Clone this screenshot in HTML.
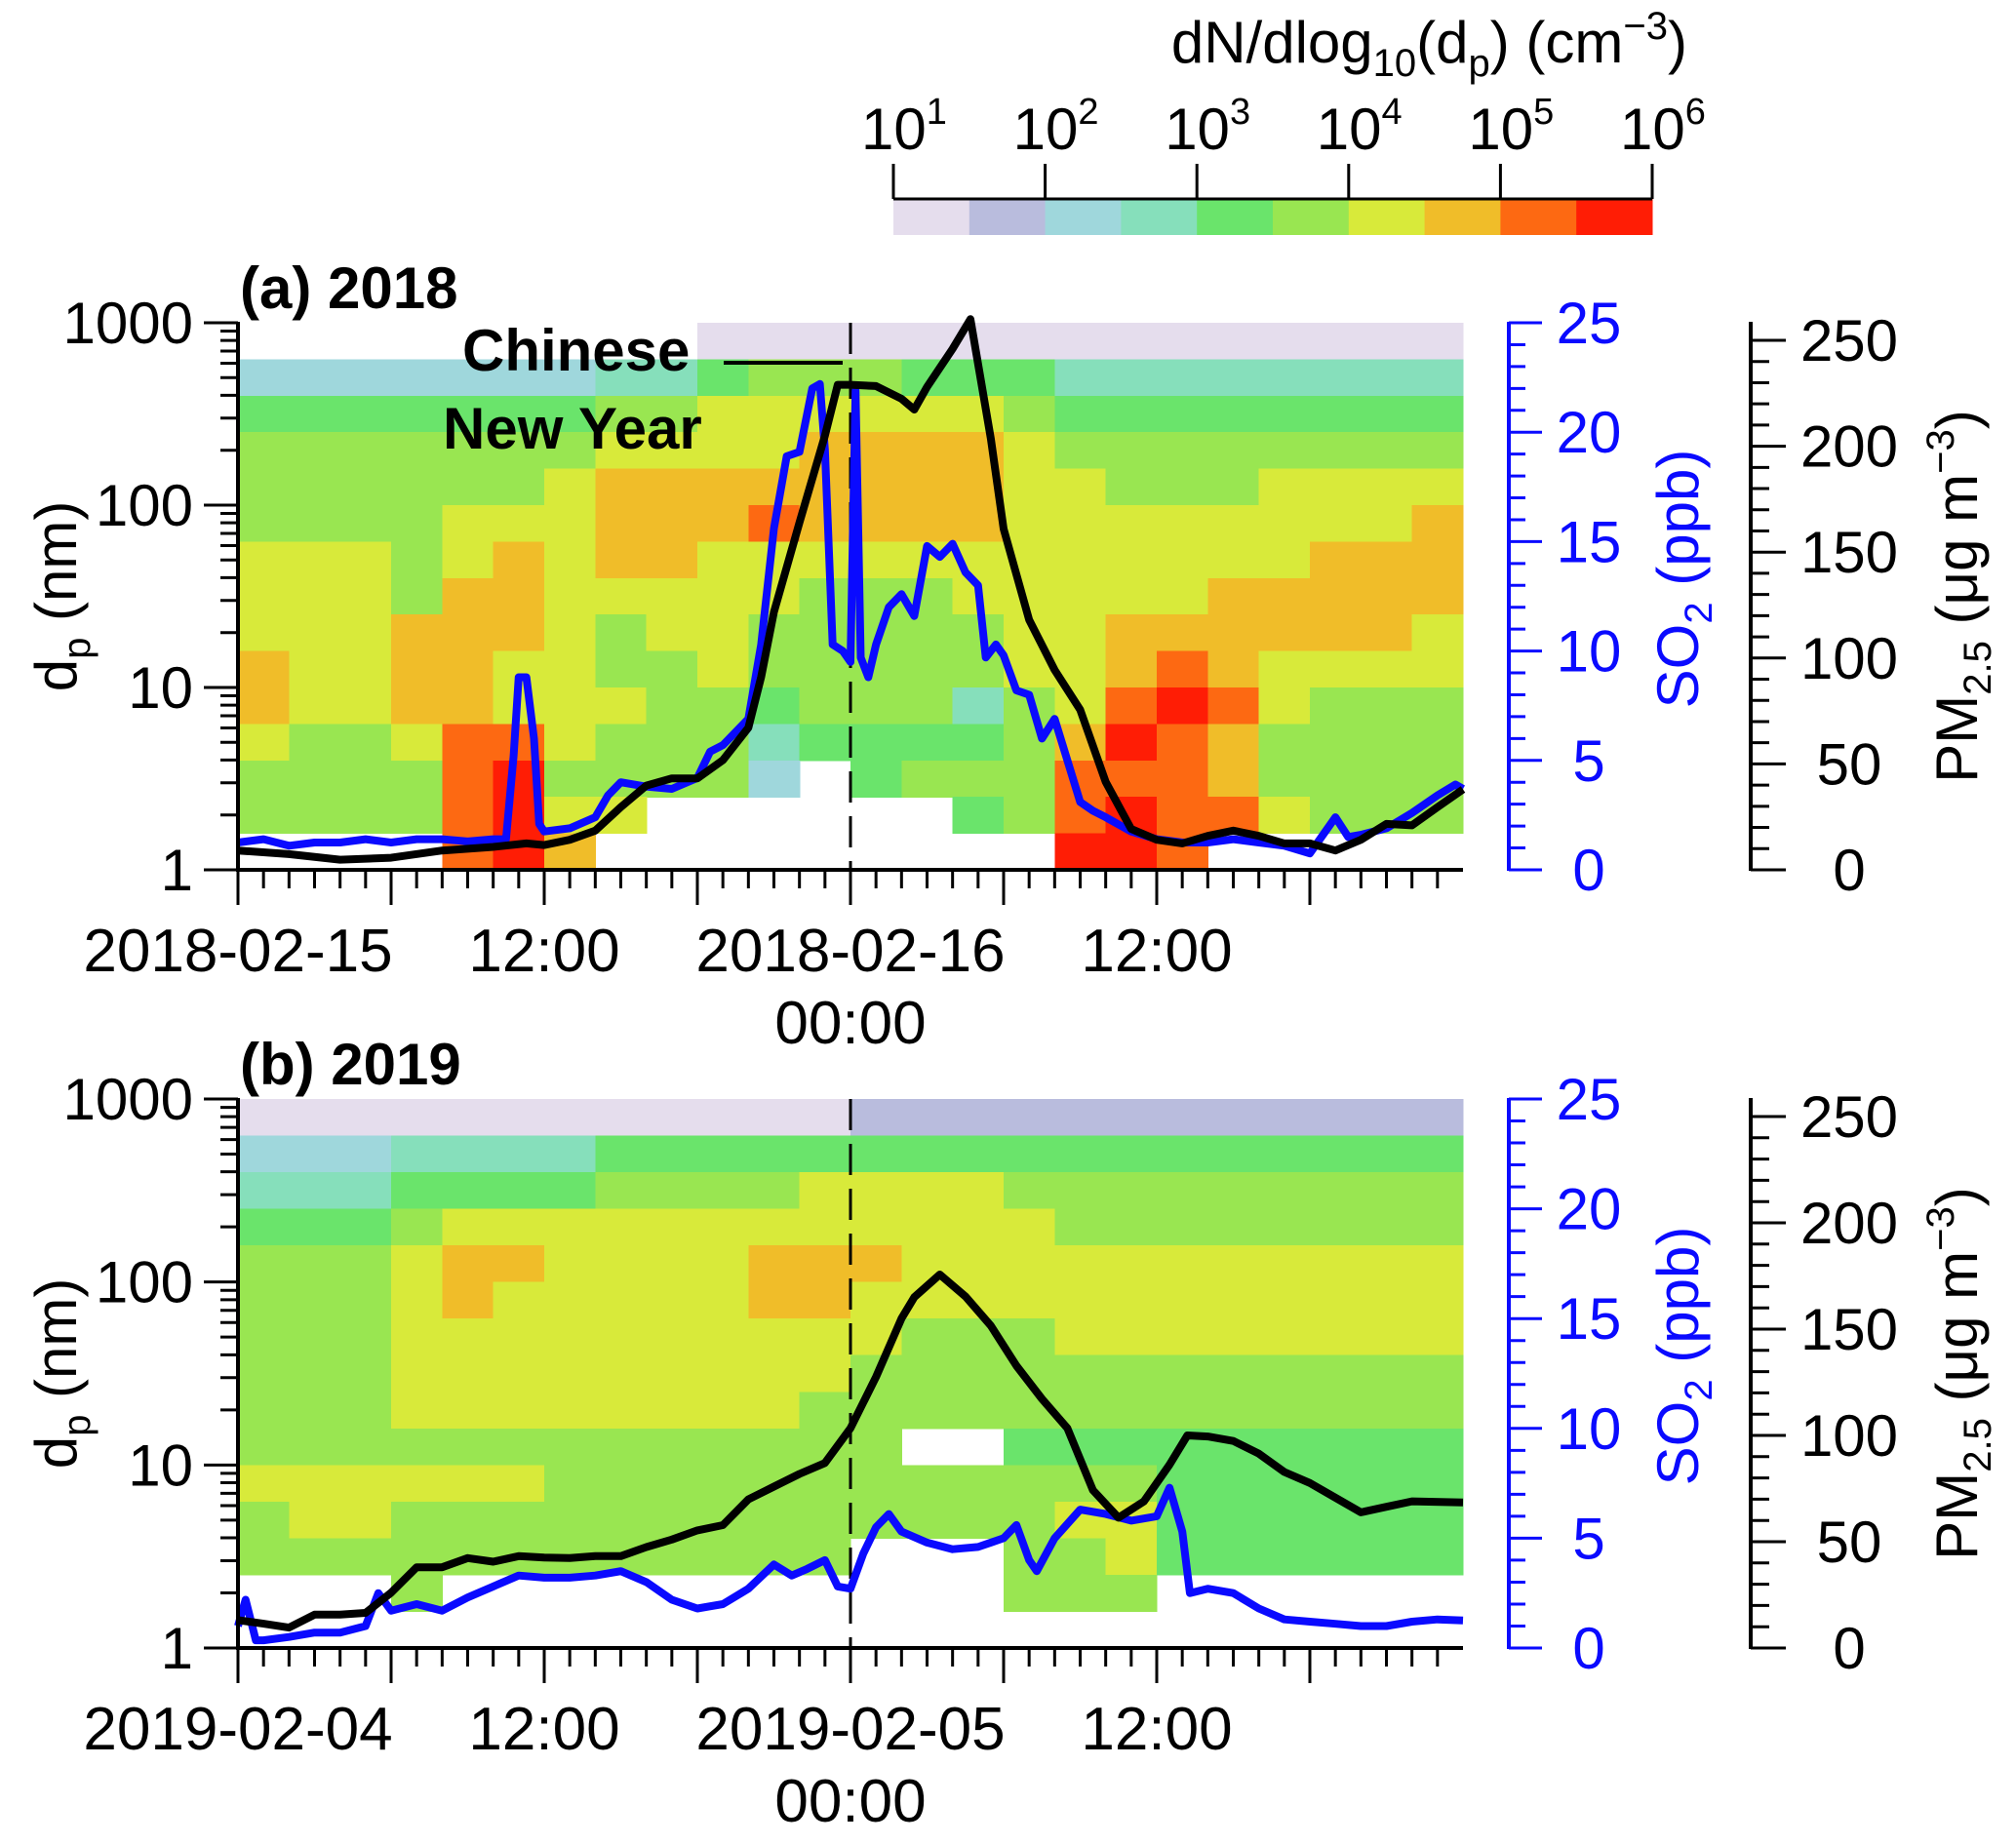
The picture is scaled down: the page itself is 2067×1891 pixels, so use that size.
<!DOCTYPE html>
<html><head><meta charset="utf-8"><title>Particle size distribution, SO2 and PM2.5 around Chinese New Year</title>
<style>
html,body{margin:0;padding:0;background:#fff;}
svg{display:block;font-family:"Liberation Sans",Arial,sans-serif;}
</style></head>
<body>
<svg id="chart" width="2067" height="1891" viewBox="0 0 2067 1891" xmlns="http://www.w3.org/2000/svg">
<rect x="0" y="0" width="2067" height="1891" fill="#fff"/>
<g id="colorbar"></g>
<g id="panelA"></g>
<g id="panelB"></g>
</svg>
<script>
// ---------- DATA ----------
const gridA = [
".........000000000000000",
"222222233455544433333333",
"444444455666666544444444",
"555555566667777655555555",
"555555677777777665556666",
"555566677787777666666667",
"666567677666666666666777",
"666577666665556666677777",
"666777656655555667777776",
"766776655655555667876666",
"766776665545553568986555",
"655688655534444579875555",
"55558955552.455588875555",
"55558966......4589886555",
"....897.........998....."
];
const gridB = [
"000000000000111111111111",
"222333344444444444444444",
"333444455556666555555555",
"444566666666666655555555",
"555677666677766666666666",
"555676666677666666666666",
"555666666666655566666666",
"555666666666555555555555",
"555666666665555555555555",
"5555555555555..444444444",
"666666555555555555444444",
"566555555555555566444444",
"555555555555...556444444",
"...5...........555......",
"........................"
];
const so2A_t = [0,1,2,3,4,5,6,7,8,9,10,10.5,10.8,11,11.3,11.6,11.8,12,13,14,14.5,15,16,17,18,18.5,19,20,20.5,21,21.5,22,22.5,22.8,23,23.3,23.7,24,24.2,24.4,24.7,25,25.5,26,26.5,27,27.5,28,28.5,29,29.3,29.7,30,30.5,31,31.5,32,32.5,33,33.5,34,35,36,37,38,39,40,41,42,43,43.5,44,45,46,47,47.7,48];
const so2A_v = [1.25,1.4,1.1,1.25,1.25,1.4,1.25,1.4,1.4,1.3,1.4,1.4,5.2,8.8,8.8,6,2.1,1.75,1.9,2.4,3.4,4.0,3.8,3.7,4.2,5.4,5.7,6.9,10.3,15.6,18.9,19.1,22.0,22.2,19.2,10.3,10,9.5,21.9,9.7,8.8,10.3,12,12.6,11.6,14.8,14.3,14.9,13.6,13,9.7,10.3,9.8,8.2,8,6,6.9,5.0,3.1,2.7,2.4,1.75,1.4,1.25,1.25,1.4,1.25,1.1,0.75,2.4,1.5,1.6,1.9,2.6,3.4,3.9,3.7];
const pmA_t = [0,2,4,6,8,10,11.3,12,13,14,15,16,17,18,19,20,20.5,21,22,23,23.5,24,25,26,26.5,27,28,28.7,29.5,30,31,32,33,34,35,36,37,38,39,40,41,42,43,44,45,46,47,48];
const pmA_v = [9.1,7.4,4.8,5.7,9.1,10.8,12.5,11.7,14.2,18.5,29.6,39.8,43.2,43.2,51.8,67.1,91,121.7,164,205,229,229,228.4,222.4,217.3,228,246,260,203.6,161,118,94.4,75.6,41.5,19.3,14.2,12.5,16,18.5,16,12.5,12.5,9.1,14.2,21.7,21,29.6,38];
const so2B_t = [0,0.3,0.7,1,2,3,4,5,5.5,6,7,8,9,10,11,12,13,14,15,16,17,18,19,20,21,21.7,22.3,23,23.5,24,24.5,25,25.5,26,27,28,29,30,30.5,31,31.3,32,33,34,35,36,36.5,37,37.3,38,39,40,41,42,43,44,45,46,47,48];
const so2B_v = [1.0,2.2,0.35,0.35,0.5,0.7,0.7,1.0,2.5,1.7,2.0,1.7,2.3,2.8,3.3,3.2,3.2,3.3,3.5,3.0,2.2,1.8,2.0,2.7,3.8,3.3,3.6,4.0,2.8,2.7,4.3,5.5,6.1,5.3,4.8,4.5,4.6,5.0,5.6,4.0,3.5,5.0,6.3,6.1,5.8,6.0,7.3,5.3,2.5,2.7,2.5,1.8,1.3,1.2,1.1,1.0,1.0,1.2,1.3,1.25];
const pmB_t = [0,1,2,3,4,5,6,7,8,9,10,11,12,13,14,15,16,17,18,19,20,21,22,23,24,25,26,26.5,27.5,28.5,29.5,30.5,31.5,32.5,33.5,34.5,35.5,36.5,37.2,38,39,40,41,42,43,44,45,46,48];
const pmB_v = [13.1,11.4,9.6,15.7,15.7,16.5,26,38,38,42.3,40.6,43.2,42.5,42.3,43.2,43.2,47.5,51,55.3,57.8,69.9,75.9,81.9,87,103.4,127.5,155,165,175.7,165.4,151.6,132.8,117.2,103.4,74.2,61.3,69,86.2,100,99.5,97.4,91.4,82.8,77.6,70.7,63.8,66.4,69,68.5];
const xLabelsA = ["2018-02-15","12:00","2018-02-16","12:00"];
const xLabelsB = ["2019-02-04","12:00","2019-02-05","12:00"];
const xLabelHours = [0,12,24,36];
const yTickValues = [1,10,100,1000];
const so2Ticks = [0,5,10,15,20,25];
const pmTicks = [0,50,100,150,200,250];
const cbExponents = [1,2,3,4,5,6];

// ---------- STYLE / LAYOUT ----------
const NS = 'http://www.w3.org/2000/svg';
const levelColors = ['#e5dded','#b9bcdd','#9fd7dc','#86dfbb','#6ae46b','#99e651','#d8ea3a','#f0bd29','#fd6912','#ff1d05'];
const X0 = 244, X1 = 1500, HOURS = 48;
const SO2X = 1547, PMX = 1795;
function xScale(h){ return X0 + h*(X1-X0)/HOURS; }
function mk(parent, tag, attrs, text){
  const e = document.createElementNS(NS, tag);
  for (const k in attrs) e.setAttribute(k, attrs[k]);
  if (text !== undefined) e.textContent = text;
  parent.appendChild(e);
  return e;
}

(function(){
  const g = document.getElementById('colorbar');
  const cx0 = 916, cx1 = 1694, cw = (cx1-cx0)/levelColors.length;
  levelColors.forEach((c,i)=>{
    const r = mk(g,'rect',{x:cx0+i*cw, y:204, width:cw+0.5, height:37, fill:c});
    
    
  });
  const ax = mk(g,'line',{x1:cx0, y1:204, x2:cx1, y2:204, stroke:'#000','stroke-width':3});
  
  
  const step = (cx1-cx0)/(cbExponents.length-1);
  cbExponents.forEach((e,i)=>{
    const tx = cx0 + i*step;
    const t = mk(g,'line',{x1:tx, y1:168, x2:tx, y2:204, stroke:'#000','stroke-width':3});
    
    
    const lab = mk(g,'text',{x:tx-33, y:153, 'font-size':60, fill:'#000'});
    
    
    mk(lab,'tspan',{},'10');
    mk(lab,'tspan',{'font-size':38, dy:-26}, String(e));
  });
  const title = mk(g,'text',{x:1730, y:64, 'font-size':60, 'text-anchor':'end', fill:'#000'});
  
  
  mk(title,'tspan',{},'dN/dlog');
  mk(title,'tspan',{'font-size':40, dy:14},'10');
  mk(title,'tspan',{dy:-14},'(d');
  mk(title,'tspan',{'font-size':40, dy:14},'p');
  mk(title,'tspan',{dy:-14},') (cm');
  mk(title,'tspan',{'font-size':40, dy:-24},'−3');
  mk(title,'tspan',{dy:24},')');
})();

function drawPanel(gid, top, bottom, grid, so2T, so2V, pmT, pmV, xLabels, titleText, titleY, annot){
  const g = document.getElementById(gid);
  const dec = (bottom-top)/3;
  const yLog = d => bottom - Math.log10(d)*dec;
  const ySO2 = v => bottom - v*(bottom-top)/25;
  const pmScale = (bottom-top-18)/250;
  const yPM = v => bottom - v*pmScale;

  const hm = mk(g,'g',{'shape-rendering':'crispEdges'});
  
  
  grid.forEach((row,r)=>{
    for (let c=0;c<row.length;c++){
      const ch = row[c];
      if (ch === '.') continue;
      const lv = parseInt(ch,10);
      const yTop = yLog(Math.pow(10, 3-0.2*r));
      const yBot = yLog(Math.pow(10, 3-0.2*(r+1)));
      const cell = mk(hm,'rect',{x:xScale(c*2), y:yTop, width:xScale(2)-xScale(0)+0.6, height:yBot-yTop+0.6, fill:levelColors[lv]});
      
      
    }
  });

  const dl = mk(g,'line',{x1:xScale(24), y1:top, x2:xScale(24), y2:bottom, stroke:'#000','stroke-width':3,'stroke-dasharray':'32 14'});
  
  

  const so2Pts = so2T.map((t,i)=>xScale(t).toFixed(1)+','+ySO2(so2V[i]).toFixed(1)).join(' ');
  const sl = mk(g,'polyline',{points:so2Pts, fill:'none', stroke:'#0a0aff','stroke-width':8,'stroke-linejoin':'round'});
  
  

  const pmPts = pmT.map((t,i)=>xScale(t).toFixed(1)+','+yPM(pmV[i]).toFixed(1)).join(' ');
  const pl = mk(g,'polyline',{points:pmPts, fill:'none', stroke:'#000','stroke-width':8,'stroke-linejoin':'round'});
  
  

  const la = mk(g,'line',{x1:X0, y1:top-1, x2:X0, y2:bottom+1, stroke:'#000','stroke-width':4});
  
  
  for (let e=0;e<3;e++){
    for (let m=2;m<=9;m++){
      const y = yLog(m*Math.pow(10,e));
      const t = mk(g,'line',{x1:X0-18, y1:y, x2:X0, y2:y, stroke:'#000','stroke-width':3});
      
      
    }
  }
  yTickValues.forEach(v=>{
    const y = yLog(v);
    const t = mk(g,'line',{x1:X0-35, y1:y, x2:X0, y2:y, stroke:'#000','stroke-width':3});
    
    
    const l = mk(g,'text',{x:198, y:y+21, 'font-size':60,'text-anchor':'end', fill:'#000'}, String(v));
    
    
  });
  const yt = mk(g,'text',{x:0, y:0, 'font-size':60,'text-anchor':'middle', fill:'#000', transform:'translate(78,'+((top+bottom)/2)+') rotate(-90)'});
  
  
  mk(yt,'tspan',{},'d');
  mk(yt,'tspan',{'font-size':40, dy:14},'p');
  mk(yt,'tspan',{dy:-14},' (nm)');

  const ba = mk(g,'line',{x1:X0-2, y1:bottom, x2:X1, y2:bottom, stroke:'#000','stroke-width':4});
  
  
  for (let h=0; h<HOURS; h++){
    const major = h%6===0;
    const t = mk(g,'line',{x1:xScale(h), y1:bottom, x2:xScale(h), y2:bottom+(major?36:19), stroke:'#000','stroke-width':3});
    
    
  }
  xLabels.forEach((s,i)=>{
    const l = mk(g,'text',{x:xScale(xLabelHours[i]), y:bottom+104, 'font-size':62,'text-anchor':'middle', fill:'#000'}, s);
    
    
  });
  const mid = mk(g,'text',{x:xScale(24), y:bottom+178, 'font-size':62,'text-anchor':'middle', fill:'#000'}, '00:00');
  
  

  const sa = mk(g,'line',{x1:SO2X, y1:top-1, x2:SO2X, y2:bottom+1, stroke:'#0a0aff','stroke-width':4});
  
  
  for (let v=0; v<=25; v++){
    const major = v%5===0;
    const t = mk(g,'line',{x1:SO2X, y1:ySO2(v), x2:SO2X+(major?34:17), y2:ySO2(v), stroke:'#0a0aff','stroke-width':3});
    
    
  }
  so2Ticks.forEach(v=>{
    const l = mk(g,'text',{x:1629, y:ySO2(v)+21, 'font-size':60,'text-anchor':'middle', fill:'#0a0aff'}, String(v));
    
    
  });
  const st = mk(g,'text',{x:0, y:0, 'font-size':60,'text-anchor':'middle', fill:'#0a0aff', transform:'translate(1741,'+((top+bottom)/2-18)+') rotate(-90)'});
  
  
  mk(st,'tspan',{},'SO');
  mk(st,'tspan',{'font-size':40, dy:14},'2');
  mk(st,'tspan',{dy:-14},' (ppb)');

  const pa = mk(g,'line',{x1:PMX, y1:top-1, x2:PMX, y2:bottom+1, stroke:'#000','stroke-width':4});
  
  
  for (let v=0; v<=250; v+=10){
    const major = v%50===0;
    const t = mk(g,'line',{x1:PMX, y1:yPM(v), x2:PMX+(major?36:19), y2:yPM(v), stroke:'#000','stroke-width':3});
    
    
  }
  pmTicks.forEach(v=>{
    const l = mk(g,'text',{x:1896, y:yPM(v)+21, 'font-size':60,'text-anchor':'middle', fill:'#000'}, String(v));
    
    
  });
  const pt = mk(g,'text',{x:0, y:0, 'font-size':60,'text-anchor':'middle', fill:'#000', transform:'translate(2027,'+((top+bottom)/2)+') rotate(-90)'});
  
  
  mk(pt,'tspan',{},'PM');
  mk(pt,'tspan',{'font-size':40, dy:14},'2.5');
  mk(pt,'tspan',{dy:-14},' (μg m');
  mk(pt,'tspan',{'font-size':40, dy:-24},'−3');
  mk(pt,'tspan',{dy:24},')');

  const ti = mk(g,'text',{x:246, y:titleY, 'font-size':60,'font-weight':'bold', fill:'#000'}, titleText);
  
  

  if (annot){
    const a1 = mk(g,'text',{x:474, y:380, 'font-size':60,'font-weight':'bold', fill:'#000'}, 'Chinese');
    
    
    const a2 = mk(g,'text',{x:454, y:460, 'font-size':60,'font-weight':'bold', fill:'#000'}, 'New Year');
    
    
    const a3 = mk(g,'line',{x1:742, y1:372, x2:864, y2:372, stroke:'#000','stroke-width':4});
    
    
  }
}

drawPanel('panelA', 331, 892, gridA, so2A_t, so2A_v, pmA_t, pmA_v, xLabelsA, '(a) 2018', 316, true);
drawPanel('panelB', 1127, 1690, gridB, so2B_t, so2B_v, pmB_t, pmB_v, xLabelsB, '(b) 2019', 1112, false);
</script>
</body></html>
